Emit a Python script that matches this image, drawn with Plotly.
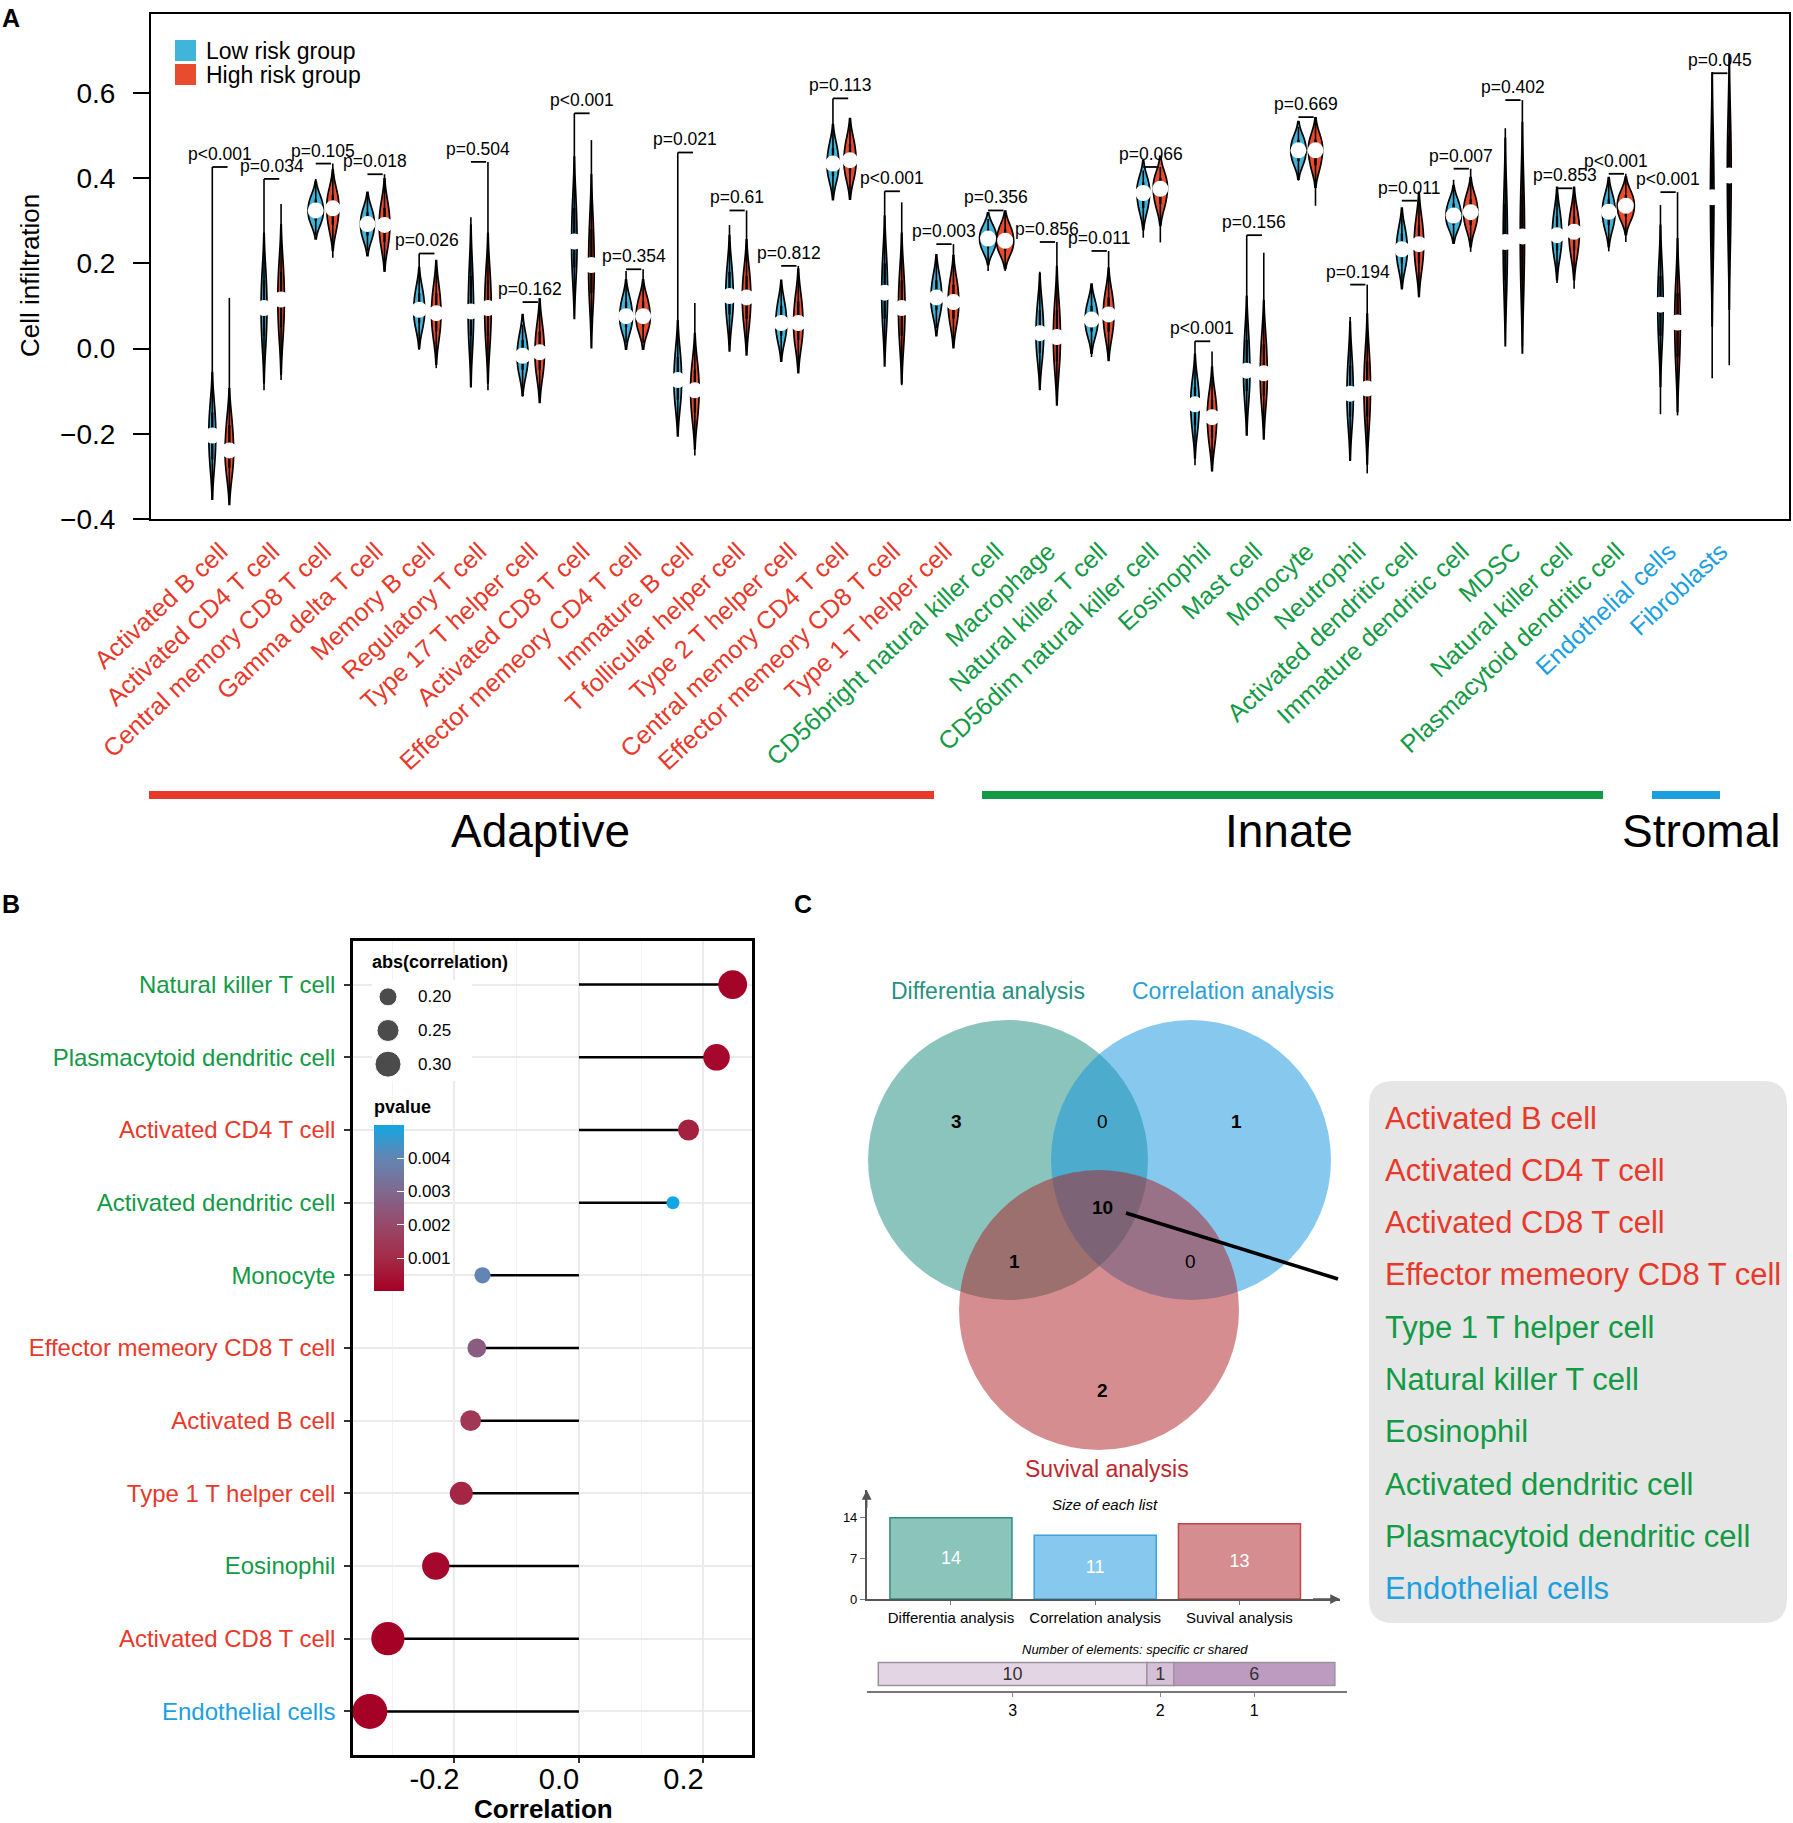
import plotly.graph_objects as go

W, H = 1793, 1823
def px(v):
    return v / W
def py(v):
    return 1 - v / H

FONT = "Liberation Sans, Arial, Helvetica, sans-serif"
RED, GREEN, BLUE = "#E8392B", "#129A45", "#1C9FE0"
LOW_COLOR, HIGH_COLOR = "#40B4D9", "#E94B2F"
GROUP_COLOR = {"Adaptive": RED, "Innate": GREEN, "Stromal": BLUE}

# ---------------- Panel A data ----------------
cells = ["Activated B cell", "Activated CD4 T cell", "Central memory CD8 T cell", "Gamma delta T cell",
         "Memory B cell", "Regulatory T cell", "Type 17 T helper cell", "Activated CD8 T cell",
         "Effector memeory CD4 T cell", "Immature B cell", "T follicular helper cell", "Type 2 T helper cell",
         "Central memory CD4 T cell", "Effector memeory CD8 T cell", "Type 1 T helper cell",
         "CD56bright natural killer cell", "Macrophage", "Natural killer T cell", "CD56dim natural killer cell",
         "Eosinophil", "Mast cell", "Monocyte", "Neutrophil", "Activated dendritic cell",
         "Immature dendritic cell", "MDSC", "Natural killer cell", "Plasmacytoid dendritic cell",
         "Endothelial cells", "Fibroblasts"]
cell_groups = ["Adaptive"] * 15 + ["Innate"] * 13 + ["Stromal"] * 2

low_min = [-0.355, -0.098, 0.266, 0.229, -0.003, -0.054, -0.113, 0.103, 0.013, -0.196, 0.009, -0.023, 0.351, -0.007, 0.048,
           0.182, -0.098, -0.020, 0.260, -0.274, -0.204, 0.394, -0.252, 0.140, 0.249, 0.061, 0.154, 0.228, -0.154, -0.070]
low_q1 = [-0.26, 0.03, 0.30, 0.265, 0.06, 0.03, -0.05, 0.19, 0.05, -0.12, 0.08, 0.03, 0.405, 0.07, 0.09,
          0.235, -0.01, 0.04, 0.33, -0.18, -0.10, 0.44, -0.16, 0.20, 0.29, 0.16, 0.23, 0.29, 0.03, 0.24]
low_med = [-0.204, 0.095, 0.324, 0.292, 0.091, 0.087, -0.017, 0.251, 0.076, -0.074, 0.123, 0.060, 0.434, 0.131, 0.120,
           0.258, 0.036, 0.068, 0.365, -0.131, -0.052, 0.465, -0.106, 0.233, 0.312, 0.250, 0.266, 0.321, 0.103, 0.355]
low_q3 = [-0.15, 0.16, 0.35, 0.32, 0.13, 0.17, 0.02, 0.33, 0.11, -0.02, 0.18, 0.10, 0.47, 0.20, 0.16,
          0.28, 0.09, 0.10, 0.39, -0.09, 0.02, 0.49, -0.04, 0.27, 0.34, 0.34, 0.31, 0.35, 0.17, 0.46]
low_max = [0.426, 0.398, 0.398, 0.363, 0.223, 0.308, 0.056, 0.552, 0.182, 0.460, 0.290, 0.156, 0.587, 0.369, 0.206,
           0.304, 0.180, 0.148, 0.418, 0.017, 0.266, 0.520, 0.074, 0.324, 0.396, 0.517, 0.376, 0.402, 0.337, 0.646]

high_min = [-0.342, -0.074, 0.213, 0.180, -0.046, -0.098, -0.113, 0.060, 0.013, -0.251, -0.007, -0.054, 0.351, -0.086, 0.017,
            0.182, -0.121, -0.015, 0.249, -0.288, -0.196, 0.335, -0.293, 0.120, 0.227, 0.005, 0.140, 0.250, -0.157, -0.039]
high_q1 = [-0.28, 0.05, 0.29, 0.25, 0.04, 0.03, -0.05, 0.13, 0.05, -0.15, 0.07, 0.02, 0.41, 0.03, 0.07,
           0.23, -0.03, 0.04, 0.34, -0.21, -0.11, 0.43, -0.16, 0.20, 0.29, 0.16, 0.23, 0.31, -0.02, 0.28]
high_med = [-0.239, 0.115, 0.329, 0.290, 0.083, 0.095, -0.009, 0.196, 0.076, -0.098, 0.120, 0.060, 0.442, 0.095, 0.109,
            0.253, 0.027, 0.080, 0.375, -0.161, -0.058, 0.465, -0.094, 0.245, 0.320, 0.263, 0.274, 0.335, 0.061, 0.406]
high_q3 = [-0.18, 0.18, 0.36, 0.33, 0.13, 0.16, 0.04, 0.28, 0.11, -0.05, 0.17, 0.11, 0.48, 0.16, 0.15,
           0.28, 0.09, 0.12, 0.40, -0.12, 0.01, 0.49, -0.03, 0.29, 0.35, 0.36, 0.31, 0.36, 0.13, 0.50]
high_max = [0.119, 0.339, 0.434, 0.409, 0.190, 0.438, 0.109, 0.489, 0.186, 0.107, 0.324, 0.194, 0.540, 0.343, 0.245,
            0.324, 0.250, 0.229, 0.426, -0.007, 0.225, 0.543, 0.150, 0.347, 0.422, 0.583, 0.369, 0.410, 0.367, 0.619]

p_labels = ["p<0.001", "p=0.034", "p=0.105", "p=0.018", "p=0.026", "p=0.504", "p=0.162", "p<0.001",
            "p=0.354", "p=0.021", "p=0.61", "p=0.812", "p=0.113", "p<0.001", "p=0.003", "p=0.356",
            "p=0.856", "p=0.011", "p=0.066", "p<0.001", "p=0.156", "p=0.669", "p=0.194", "p=0.011",
            "p=0.007", "p=0.402", "p=0.853", "p<0.001", "p<0.001", "p=0.045"]

group_names = ["Adaptive", "Innate", "Stromal"]

# ---------------- Panel B data ----------------
corr_cells = ["Natural killer T cell", "Plasmacytoid dendritic cell", "Activated CD4 T cell",
              "Activated dendritic cell", "Monocyte", "Effector memeory CD8 T cell", "Activated B cell",
              "Type 1 T helper cell", "Eosinophil", "Activated CD8 T cell", "Endothelial cells"]
corr_groups = ["Innate", "Innate", "Adaptive", "Innate", "Innate", "Adaptive", "Adaptive",
               "Adaptive", "Innate", "Adaptive", "Stromal"]
corr_vals = [0.247, 0.221, 0.176, 0.151, -0.155, -0.164, -0.174, -0.189, -0.230, -0.307, -0.336]
corr_p = [0.0001, 0.0002, 0.0008, 0.0050, 0.0040, 0.0026, 0.0014, 0.0009, 0.0002, 0.00003, 0.00001]
size_breaks = [0.20, 0.25, 0.30]
p_ticks = [0.001, 0.002, 0.003, 0.004]

# ---------------- Panel C data ----------------
venn_sets = ["Differentia analysis", "Correlation analysis", "Suvival analysis"]
venn_counts = [3, 0, 1, 10, 1, 0, 2]   # D only, D&C, C only, all, D&S, C&S, S only
list_sizes = [14, 11, 13]
shared_counts = [10, 1, 6]
shared_labels = ["3", "2", "1"]
common_cells = ["Activated B cell", "Activated CD4 T cell", "Activated CD8 T cell", "Effector memeory CD8 T cell",
                "Type 1 T helper cell", "Natural killer T cell", "Eosinophil", "Activated dendritic cell",
                "Plasmacytoid dendritic cell", "Endothelial cells"]
common_groups = ["Adaptive"] * 4 + ["Innate"] * 5 + ["Stromal"]

fig = go.Figure()

def note(x, y, text, size, color="black", xanchor="center", yanchor="middle", xref="paper", yref="paper", **kw):
    return dict(x=x, y=y, xref=xref, yref=yref, text=text, showarrow=False, xanchor=xanchor, yanchor=yanchor,
                font=dict(size=size, family=FONT, color=color), **kw)

# ================= Panel A: violins =================
OFF = 0.165
pos = list(range(len(cells)))
low_x = [i - OFF for i in pos]
high_x = [i + OFF for i in pos]

for name, xs, q1, med, q3, color in [("Low risk group", low_x, low_q1, low_med, low_q3, LOW_COLOR),
                                     ("High risk group", high_x, high_q1, high_med, high_q3, HIGH_COLOR)]:
    vx, vy = [], []
    for x, a, m, b in zip(xs, q1, med, q3):
        vx += [x, x, x]
        vy += [a, m, b]
    fig.add_trace(go.Violin(x=vx, y=vy, name=name, width=0.33, scalemode="width", spanmode="soft",
                            fillcolor=color, line=dict(color="black", width=1.7), opacity=1,
                            points=False, showlegend=False, hoverinfo="skip", xaxis="x", yaxis="y"))

# whiskers (min-max) and IQR bars
wx, wy, bx, by = [], [], [], []
for xs, mn, q1, q3, mx in [(low_x, low_min, low_q1, low_q3, low_max), (high_x, high_min, high_q1, high_q3, high_max)]:
    for x, a, b, c, d in zip(xs, mn, q1, q3, mx):
        wx += [x, x, None]
        wy += [a, d, None]
        bx += [x, x, None]
        by += [b, c, None]
fig.add_trace(go.Scatter(x=wx, y=wy, mode="lines", line=dict(color="black", width=1.6),
                         showlegend=False, hoverinfo="skip", xaxis="x", yaxis="y"))
fig.add_trace(go.Scatter(x=bx, y=by, mode="lines", line=dict(color="black", width=2.3),
                         showlegend=False, hoverinfo="skip", xaxis="x", yaxis="y"))
fig.add_trace(go.Scatter(x=low_x + high_x, y=low_med + high_med, mode="markers",
                         marker=dict(color="white", size=16, line=dict(width=0)),
                         showlegend=False, hoverinfo="skip", xaxis="x", yaxis="y"))

# significance brackets
brx, bry = [], []
bracket_y = [max(a, b) for a, b in zip(low_max, high_max)]
for i, yb in zip(pos, bracket_y):
    brx += [i - 0.165, i + 0.13, None]
    bry += [yb, yb, None]
fig.add_trace(go.Scatter(x=brx, y=bry, mode="lines", line=dict(color="black", width=1.8),
                         showlegend=False, hoverinfo="skip", xaxis="x", yaxis="y"))

annotations = []
for i, yb, t in zip(pos, bracket_y, p_labels):
    annotations.append(note(i - 0.02, yb, t, 17.5, xref="x", yref="y", yanchor="bottom", yshift=1))

ticktext_A = [f"<span style='color:{GROUP_COLOR[g]}'>{c}</span>" for c, g in zip(cells, cell_groups)]

# ================= Panel B: lollipop =================
rows = list(range(len(corr_cells)))
sx, sy = [], []
for r, v in zip(rows, corr_vals):
    sx += [0, v, None]
    sy += [r, r, None]
fig.add_trace(go.Scatter(x=sx, y=sy, mode="lines", line=dict(color="black", width=2.5),
                         showlegend=False, hoverinfo="skip", xaxis="x2", yaxis="y2"))
abs_c = [abs(v) for v in corr_vals]
amin, amax = min(abs_c), max(abs_c)
dot_sizes = [13 + 22 * ((a - amin) / (amax - amin)) ** 0.5 for a in abs_c]
p_scale = [[0.0, "#A50026"], [0.2, "#A42B48"], [0.4, "#97496A"], [0.6, "#80698F"],
           [0.8, "#6385B3"], [1.0, "#12A6E2"]]
fig.add_trace(go.Scatter(
    x=corr_vals, y=rows, mode="markers", showlegend=False, hoverinfo="skip", xaxis="x2", yaxis="y2",
    marker=dict(size=dot_sizes, color=corr_p, colorscale=p_scale, cmin=min(corr_p), cmax=max(corr_p),
                opacity=1, line=dict(width=0),
                colorbar=dict(x=px(374), xanchor="left", y=py(1291), yanchor="bottom", xpad=0, ypad=0,
                              len=166, lenmode="pixels", thickness=30, thicknessmode="pixels",
                              outlinewidth=0, tickvals=p_ticks, ticktext=[f"{t:.3f}" for t in p_ticks],
                              ticks="inside", tickcolor="white", ticklen=7, tickwidth=1,
                              tickfont=dict(size=17, family=FONT, color="black")))))
annotations.append(note(px(372), py(1107), "<b>pvalue</b>", 18, xanchor="left"))

# size legend
fig.add_trace(go.Scatter(x=[0.16] * 3, y=[0, 1, 2], mode="markers", showlegend=False, hoverinfo="skip",
                         marker=dict(color="black", size=[18, 22, 26]), xaxis="x3", yaxis="y3"))
for k, b in enumerate(size_breaks):
    annotations.append(note(0.44, k, f"{b:.2f}", 17, xanchor="left", xref="x3", yref="y3"))
annotations.append(note(px(370), py(962), "<b>abs(correlation)</b>", 18, xanchor="left"))

ticktext_B = [f"<span style='color:{GROUP_COLOR[g]}'>{c}</span>" for c, g in zip(corr_cells, corr_groups)]
annotations.append(note(px(543), py(1809), "<b>Correlation</b>", 26))

# ================= Panel C: bar chart of list sizes =================
bar_fill = ["#8AC4BB", "#87C8EE", "#D68D8F"]
bar_line = ["#2E8E7E", "#3AA3DE", "#C2454B"]
fig.add_trace(go.Bar(x=[0, 1, 2], y=list_sizes, width=0.846, showlegend=False, hoverinfo="skip",
                     marker=dict(color=bar_fill, line=dict(color=bar_line, width=1.5)),
                     text=[str(s) for s in list_sizes], textposition="inside", insidetextanchor="middle",
                     textangle=0, constraintext="none",
                     textfont=dict(color="white", size=18, family=FONT), xaxis="x5", yaxis="y5"))

# stacked shared bar
seg_colors = ["#E3D5E4", "#D5C0D7", "#BD9ABF"]
base = 0
centers = []
for cnt, col in zip(shared_counts, seg_colors):
    fig.add_trace(go.Bar(x=[cnt], y=[0], base=[base], orientation="h", width=0.68, showlegend=False,
                         hoverinfo="skip", marker=dict(color=col, line=dict(color="#9E919F", width=1.5)),
                         text=[str(cnt)], textposition="inside", insidetextanchor="middle",
                         textangle=0, constraintext="none",
                         textfont=dict(color="#333333", size=18, family=FONT), xaxis="x6", yaxis="y6"))
    centers.append(base + cnt / 2)
    base += cnt

# ================= Shapes =================
shapes = []
# legend squares panel A
shapes.append(dict(type="rect", xref="paper", yref="paper", x0=px(175), x1=px(196), y0=py(40), y1=py(61),
                   fillcolor=LOW_COLOR, line=dict(width=0)))
shapes.append(dict(type="rect", xref="paper", yref="paper", x0=px(175), x1=px(196), y0=py(64), y1=py(85),
                   fillcolor=HIGH_COLOR, line=dict(width=0)))
annotations.append(note(px(204), py(51), "Low risk group", 23, xanchor="left"))
annotations.append(note(px(204), py(75), "High risk group", 23, xanchor="left"))

# group bars
for (x0, x1, xc), g in zip([(149, 934, 540), (982, 1603, 1289), (1652, 1720, 1701)], group_names):
    shapes.append(dict(type="line", xref="paper", yref="paper", x0=px(x0), x1=px(x1), y0=py(795), y1=py(795),
                       line=dict(color=GROUP_COLOR[g], width=8)))
    annotations.append(note(px(xc), py(831), g, 46))

# Venn circles
venn_fill = ["#15897A", "#0F91DD", "#AD1B1F"]
venn_centers = [(1008, 1160), (1191, 1160), (1099, 1310)]
R = 140
for (cx, cy), col in zip(venn_centers, venn_fill):
    shapes.append(dict(type="circle", xref="x4", yref="y4", x0=cx - R, x1=cx + R, y0=cy - R, y1=cy + R,
                       fillcolor=col, opacity=0.5, line=dict(width=0), layer="above"))
venn_pos = [(956, 1121), (1102, 1121), (1236, 1121), (1102, 1207), (1014, 1261), (1190, 1261), (1102, 1390)]
for (vx_, vy_), cnt in zip(venn_pos, venn_counts):
    txt = f"<b>{cnt}</b>" if cnt > 0 else str(cnt)
    annotations.append(note(vx_, vy_, txt, 19, xref="x4", yref="y4"))
venn_label_pos = [(988, 991), (1233, 991), (1107, 1469)]
venn_label_col = ["#27917F", "#2A9FDB", "#C0272D"]
for (lx, ly), t, c in zip(venn_label_pos, venn_sets, venn_label_col):
    annotations.append(note(lx, ly, t, 23, color=c, xref="x4", yref="y4"))

# connector line and list box
shapes.append(dict(type="line", xref="paper", yref="paper", x0=px(1126), y0=py(1213), x1=px(1338), y1=py(1279),
                   line=dict(color="black", width=3.5)))
bx0, by0, bx1, by1, r = 1369, 1081, 1787, 1623, 24
path = (f"M {px(bx0 + r)},{py(by0)} L {px(bx1 - r)},{py(by0)} Q {px(bx1)},{py(by0)} {px(bx1)},{py(by0 + r)} "
        f"L {px(bx1)},{py(by1 - r)} Q {px(bx1)},{py(by1)} {px(bx1 - r)},{py(by1)} "
        f"L {px(bx0 + r)},{py(by1)} Q {px(bx0)},{py(by1)} {px(bx0)},{py(by1 - r)} "
        f"L {px(bx0)},{py(by0 + r)} Q {px(bx0)},{py(by0)} {px(bx0 + r)},{py(by0)} Z")
shapes.append(dict(type="path", xref="paper", yref="paper", path=path, fillcolor="#E6E6E6",
                   line=dict(width=0), layer="below"))
for k, (c, g) in enumerate(zip(common_cells, common_groups)):
    annotations.append(note(px(1383), py(1118 + 52.3 * k), c, 31, color=GROUP_COLOR[g], xanchor="left"))

# bar chart titles + arrows
annotations.append(note(px(1105), py(1504), "<i>Size of each list</i>", 15))
annotations.append(note(px(1135), py(1649), "<i>Number of elements: specific cr shared</i>", 13))
annotations.append(dict(x=-0.584, y=18.8, xref="x5", yref="y5", ax=-0.584, ay=15.5, axref="x5", ayref="y5",
                        text="", showarrow=True, arrowhead=2, arrowsize=1.3, arrowwidth=1.5, arrowcolor="#555555"))
annotations.append(dict(x=2.697, y=0, xref="x5", yref="y5", ax=2.5, ay=0, axref="x5", ayref="y5",
                        text="", showarrow=True, arrowhead=2, arrowsize=1.3, arrowwidth=1.5, arrowcolor="#555555"))

# panel letters and y title
for t, (lx, ly) in zip(["A", "B", "C"], [(0, 2), (0, 888), (792, 888)]):
    annotations.append(note(px(lx), py(ly), f"<b>{t}</b>", 25, xanchor="left", yanchor="top"))
annotations.append(note(px(30), py(276), "Cell infiltration", 26, textangle=-90))

hidden = dict(visible=False, showgrid=False, zeroline=False, automargin=False)

fig.update_layout(
    width=W, height=H, margin=dict(l=0, r=0, t=0, b=0, autoexpand=False),
    paper_bgcolor="white", plot_bgcolor="white",
    font=dict(family=FONT, color="black"),
    barmode="overlay", showlegend=False,
    shapes=shapes, annotations=annotations,
    xaxis=dict(domain=[px(151), px(1789)], range=[-1.35, 30.32], tickvals=pos, ticktext=ticktext_A,
               tickangle=-43, tickfont=dict(size=25, family=FONT), ticks="", showgrid=False, zeroline=False,
               showline=True, mirror=True, linecolor="black", linewidth=2, anchor="y", ticklabelstandoff=6,
               automargin=False),
    yaxis=dict(domain=[py(519), py(14)], range=[-0.4, 0.785], tickvals=[-0.4, -0.2, 0.0, 0.2, 0.4, 0.6],
               ticktext=["\u22120.4", "\u22120.2", "0.0", "0.2", "0.4", "0.6"],
               tickfont=dict(size=28, family=FONT), ticks="outside", ticklen=16, tickwidth=2,
               tickcolor="black", showgrid=False, zeroline=False, showline=True, mirror=True,
               linecolor="black", linewidth=2, anchor="x", ticklabelstandoff=12, automargin=False),
    xaxis2=dict(domain=[px(353), px(752)], range=[-0.363, 0.278], tickvals=[-0.2, 0.0, 0.2],
                ticktext=["-0.2", "0.0", "0.2"], tickfont=dict(size=29, family=FONT), ticks="outside",
                ticklen=5, tickwidth=1.5, tickcolor="#333333", ticklabelshift=-20, ticklabelstandoff=-9,
                showgrid=True, gridcolor="#EBEBEB", gridwidth=1.5,
                minor=dict(tickvals=[-0.3, -0.1, 0.1], showgrid=True, gridcolor="#F2F2F2", gridwidth=1),
                zeroline=False, showline=True, mirror=True, linecolor="black", linewidth=2.5, anchor="y2",
                automargin=False),
    yaxis2=dict(domain=[py(1755), py(941)], range=[10.6, -0.6], tickvals=rows, ticktext=ticktext_B,
                tickfont=dict(size=24, family=FONT), ticks="outside", ticklen=6, tickwidth=1.5,
                tickcolor="#333333", showgrid=True, gridcolor="#EBEBEB", gridwidth=1.5, zeroline=False,
                showline=True, mirror=True, linecolor="black", linewidth=2.5, anchor="x2", ticklabelstandoff=4,
                automargin=False),
    xaxis3=dict(domain=[px(372), px(472)], range=[0, 1], anchor="y3", **hidden),
    yaxis3=dict(domain=[py(1081), py(980)], range=[2.5, -0.5], anchor="x3", **hidden),
    xaxis4=dict(domain=[px(800), px(1370)], range=[800, 1370], anchor="y4", **hidden),
    yaxis4=dict(domain=[py(1500), py(950)], range=[1500, 950], anchor="x4", **hidden),
    xaxis5=dict(domain=[px(866.7), px(1340)], range=[-0.584, 2.697], tickvals=[0, 1, 2], ticktext=venn_sets,
                tickfont=dict(size=15, family=FONT), ticks="outside", ticklen=4, tickcolor="#777777",
                showline=True, linecolor="#555555", linewidth=1.5, showgrid=False, zeroline=False, anchor="y5",
                automargin=False),
    yaxis5=dict(domain=[py(1599), py(1490)], range=[0, 18.8], tickvals=[0, 7, 14],
                tickfont=dict(size=13, family=FONT), ticks="outside", ticklen=5, tickcolor="#777777",
                showline=True, linecolor="#555555", linewidth=1.5, showgrid=False, zeroline=False, anchor="x5",
                automargin=False),
    xaxis6=dict(domain=[px(866.7), px(1346.7)], range=[-0.432, 17.44], tickvals=centers, ticktext=shared_labels,
                tickfont=dict(size=16, family=FONT), ticks="outside", ticklen=4, tickcolor="#888888",
                showline=True, linecolor="#777777", linewidth=1.5, showgrid=False, zeroline=False, anchor="y6",
                automargin=False),
    yaxis6=dict(domain=[py(1691), py(1657)], range=[-0.5, 0.5], anchor="x6", **hidden),
)

fig.write_html("out.html", config={"displayModeBar": False},
               post_script="document.body.style.margin='0px';document.body.style.padding='0px';")
